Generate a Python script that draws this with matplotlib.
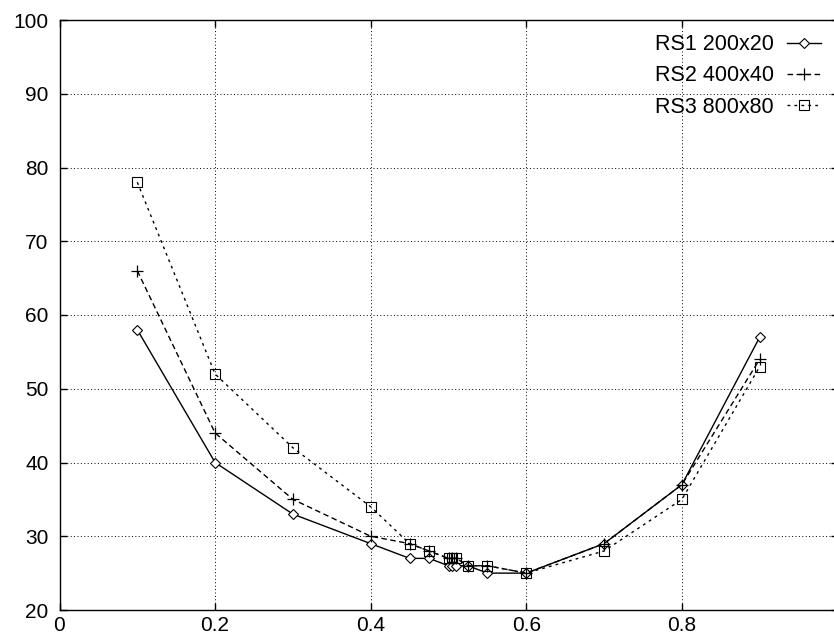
import matplotlib
matplotlib.use('Agg')
import matplotlib.pyplot as plt

plt.rcParams['font.family'] = ['Liberation Sans', 'DejaVu Sans']

x = [0.1, 0.2, 0.3, 0.4, 0.45, 0.475, 0.5, 0.505, 0.51, 0.525, 0.55, 0.6, 0.7, 0.8, 0.9]
rs1 = [58, 40, 33, 29, 27, 27, 26, 26, 26, 26, 25, 25, 29, 37, 57]
rs2 = [66, 44, 35, 30, 29, 28, 27, 27, 27, 26, 26, 25, 29, 37, 54]
rs3 = [78, 52, 42, 34, 29, 28, 27, 27, 27, 26, 26, 25, 28, 35, 53]
labels = ['RS1 200x20', 'RS2 400x40', 'RS3 800x80']

xticks = [0, 0.2, 0.4, 0.6, 0.8]
xticklabels = ['0', '0.2', '0.4', '0.6', '0.8']
yticks = [20, 30, 40, 50, 60, 70, 80, 90, 100]

W, H = 834, 636
fig = plt.figure(figsize=(W / 100, H / 100), dpi=100)
# right border sits just past the picture edge, like the cropped original
ax = fig.add_axes([59.5 / W, 1 - 610 / H, 778 / W, 590 / H])

ax.plot(x, rs1, color='black', lw=1.0, ls='-', marker='D', ms=5,
        mfc='white', mec='black', mew=0.8, label=labels[0])
ax.plot(x, rs2, color='black', lw=1.0, ls=(0, (4, 2.5)), marker='+', ms=8,
        mew=0.9, label=labels[1])
ax.plot(x, rs3, color='black', lw=1.0, ls=(0, (2, 3)), marker='s', ms=7,
        mfc='none', mec='black', mew=0.8, label=labels[2])

ax.set_xlim(0, 1.0)
ax.set_ylim(20, 100)
ax.set_xticks(xticks)
ax.set_xticklabels(xticklabels)
ax.set_yticks(yticks)
ax.grid(True, color='black', ls=(0, (1, 2.5)), lw=0.7)
ax.tick_params(direction='in', length=5, width=1, top=True, right=True,
               labelsize=15)
ax.tick_params(axis='y', pad=8)
ax.tick_params(axis='x', pad=4)
for s in ax.spines.values():
    s.set_linewidth(1.0)

ax.legend(loc='upper right', bbox_to_anchor=(0.979, 0.976), frameon=False,
          markerfirst=False, numpoints=1, handlelength=1.6, handletextpad=0.6,
          labelspacing=0.48, borderpad=0, borderaxespad=0, fontsize=15.5)

fig.savefig('out.png', dpi=100)
